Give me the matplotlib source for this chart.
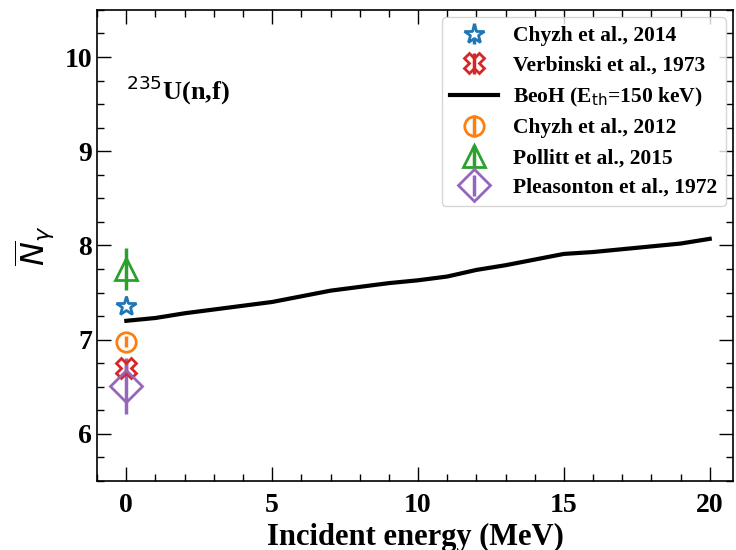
import matplotlib
matplotlib.use('Agg')
import matplotlib.pyplot as plt
from matplotlib.ticker import MultipleLocator

plt.rcParams['font.family'] = ['Liberation Serif', 'DejaVu Sans']
plt.rcParams['font.weight'] = 'bold'
plt.rcParams['mathtext.fontset'] = 'custom'
plt.rcParams['mathtext.rm'] = 'DejaVu Sans:normal'
plt.rcParams['mathtext.it'] = 'DejaVu Sans:italic:normal'
plt.rcParams['mathtext.bf'] = 'DejaVu Sans:bold'

# BeoH calculation
beoh_e = [0, 1, 2, 3, 4, 5, 6, 7, 8, 9, 10, 11, 12, 13, 14, 15, 16, 17, 18, 19, 20]
beoh_n = [7.20, 7.23, 7.28, 7.32, 7.36, 7.40, 7.46, 7.52, 7.56, 7.60, 7.63, 7.67,
          7.74, 7.79, 7.85, 7.91, 7.93, 7.96, 7.99, 8.02, 8.07]

# thermal measurements (E=0)
chyzh14 = (7.36, 0.03)
verbinski = (6.70, 0.05)
chyzh12 = (6.98, 0.06)
pollitt = (7.75, 0.22)
pleasonton = (6.51, 0.30)

fig = plt.figure(figsize=(7.36, 5.5), dpi=100)
ax = fig.add_axes([0.132, 0.1255, 0.864, 0.8565])

ms = 14
h1 = ax.errorbar([0], [chyzh14[0]], yerr=[chyzh14[1]], fmt='*', color='tab:blue', mfc='white',
                 ms=ms + 1, mew=2, elinewidth=2.5, label='Chyzh et al., 2014')
h2 = ax.errorbar([0], [verbinski[0]], yerr=[verbinski[1]], fmt='X', color='tab:red', mfc='none',
                 ms=ms, mew=2, elinewidth=2.5, label='Verbinski et al., 1973')
h3, = ax.plot(beoh_e, beoh_n, '-', color='black', lw=3, label=r'BeoH (E$_{\rm th}$=150 keV)')
h4 = ax.errorbar([0], [chyzh12[0]], yerr=[chyzh12[1]], fmt='o', color='tab:orange', mfc='none',
                 ms=ms, mew=2, elinewidth=2.5, label='Chyzh et al., 2012')
h5 = ax.errorbar([0], [pollitt[0]], yerr=[pollitt[1]], fmt='^', color='tab:green', mfc='none',
                 ms=ms + 2, mew=2, elinewidth=2.5, label='Pollitt et al., 2015')
h6 = ax.errorbar([0], [pleasonton[0]], yerr=[pleasonton[1]], fmt='D', color='tab:purple', mfc='none',
                 ms=ms + 2, mew=2, elinewidth=2.5, label='Pleasonton et al., 1972')

ax.set_xlim(-1, 20.8)
ax.set_ylim(5.5, 10.5)
ax.xaxis.set_major_locator(MultipleLocator(5))
ax.xaxis.set_minor_locator(MultipleLocator(1))
ax.yaxis.set_major_locator(MultipleLocator(1))
ax.yaxis.set_minor_locator(MultipleLocator(0.25))
ax.tick_params(which='both', direction='in', top=True, right=True, labelsize=20)
ax.tick_params(axis='x', pad=9)
ax.tick_params(which='major', length=10, width=1)
ax.tick_params(which='minor', length=5, width=1)
for s in ax.spines.values():
    s.set_linewidth(1.2)

ax.set_xlabel('Incident energy (MeV)', fontsize=22, fontweight='bold', labelpad=3)
ax.set_ylabel(r'$\overline{N}_\gamma$', fontsize=23, labelpad=6)

ax.text(0.0, 9.55, r'$^{235}$U(n,f)', fontsize=19, fontweight='bold')

handles = [h1, h2, h3, h4, h5, h6]
ax.legend(handles, [h.get_label() for h in handles], loc='upper right', fontsize=15.5,
          frameon=True, borderaxespad=0.35, handlelength=2.2, labelspacing=0.45,
          handletextpad=0.7, borderpad=0.4)

fig.savefig('out.png', dpi=100)
